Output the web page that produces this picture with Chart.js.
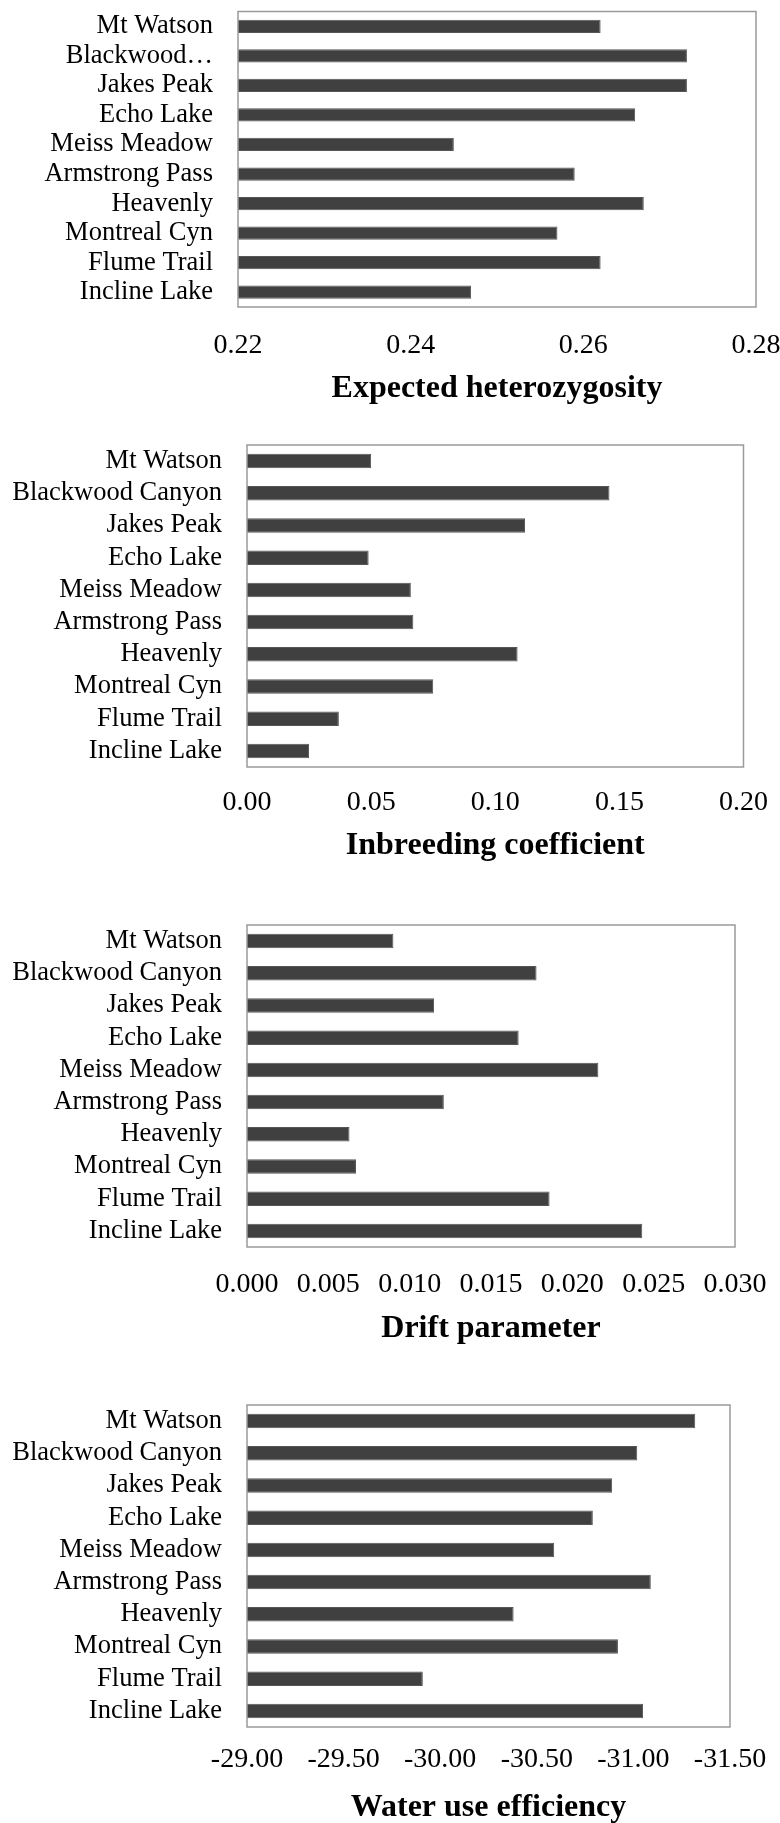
<!DOCTYPE html>
<html>
<head>
<meta charset="utf-8">
<script src="https://cdn.jsdelivr.net/npm/chart.js@4/dist/chart.umd.min.js"></script>
<style>
  html, body { margin: 0; padding: 0; background: #ffffff; width: 780px; height: 1823px; overflow: hidden; }
  canvas { position: absolute; left: 0; }
</style>
</head>
<body>
<canvas id="hetero"></canvas>
<canvas id="inbreeding"></canvas>
<canvas id="drift"></canvas>
<canvas id="wue"></canvas>
<script>
// Sampling sites, top to bottom
const sites = ['Mt Watson', 'Blackwood Canyon', 'Jakes Peak', 'Echo Lake', 'Meiss Meadow',
               'Armstrong Pass', 'Heavenly', 'Montreal Cyn', 'Flume Trail', 'Incline Lake'];
// The heterozygosity panel shows a shortened name for Blackwood Canyon
const sitesShort = ['Mt Watson', 'Blackwood\u2026', 'Jakes Peak', 'Echo Lake', 'Meiss Meadow',
                    'Armstrong Pass', 'Heavenly', 'Montreal Cyn', 'Flume Trail', 'Incline Lake'];

// Per-site values
const expectedHeterozygosity = [0.262, 0.272, 0.272, 0.266, 0.245, 0.259, 0.267, 0.257, 0.262, 0.247];
const inbreedingCoefficient  = [0.050, 0.146, 0.112, 0.049, 0.066, 0.067, 0.109, 0.075, 0.037, 0.025];
const driftParameter         = [0.0090, 0.0178, 0.0115, 0.0167, 0.0216, 0.0121, 0.0063, 0.0067, 0.0186, 0.0243];
const waterUseEfficiency     = [-31.32, -31.02, -30.89, -30.79, -30.59, -31.09, -30.38, -30.92, -29.91, -31.05];

// Axis tick values
const heteroTicks     = [0.22, 0.24, 0.26, 0.28];
const inbreedingTicks = [0.00, 0.05, 0.10, 0.15, 0.20];
const driftTicks      = [0.000, 0.005, 0.010, 0.015, 0.020, 0.025, 0.030];
const wueTicks        = [-29.00, -29.50, -30.00, -30.50, -31.00, -31.50];

const SERIF = "'Liberation Serif', 'Times New Roman', Times, serif";
const PAGE_W = 780;

// Grey frame around each plot area
const frame = {
  id: 'frame',
  afterDatasetsDraw(chart) {
    const { ctx, chartArea: a } = chart;
    ctx.save();
    ctx.strokeStyle = '#9a9a9a';
    ctx.lineWidth = 1.5;
    ctx.strokeRect(a.left, a.top, a.right - a.left, a.bottom - a.top);
    ctx.restore();
  }
};

function panel(id, p) {
  const canvas = document.getElementById(id);
  canvas.width = PAGE_W;
  canvas.height = p.h;
  canvas.style.top = p.top + 'px';

  const boxTop = p.box.t - p.top;
  const boxBottom = p.box.b - p.top;
  const tickSize = 28, titleSize = 32;
  const tickPad = (p.tickY - p.box.b) - tickSize * 0.6;
  const titlePad = (p.top + p.h) - p.titleY - titleSize * 0.6;

  new Chart(canvas, {
    type: 'bar',
    data: {
      labels: p.labels,
      datasets: [{
        data: p.values,
        base: p.reverse ? p.max : p.min,
        backgroundColor: '#404040',
        borderColor: '#555555',
        borderWidth: 1,
        barPercentage: 1,
        categoryPercentage: 0.45
      }]
    },
    options: {
      indexAxis: 'y',
      responsive: false,
      animation: false,
      events: [],
      layout: { padding: { top: boxTop, right: PAGE_W - p.box.r, left: 0, bottom: 0 } },
      plugins: { legend: { display: false }, tooltip: { enabled: false } },
      scales: {
        x: {
          type: 'linear',
          min: p.min,
          max: p.max,
          reverse: !!p.reverse,
          grid: { display: false, drawTicks: false },
          border: { display: false },
          afterBuildTicks: s => { s.ticks = p.ticks.map(v => ({ value: v })); },
          afterFit: s => { s.height = p.h - boxBottom; s.paddingLeft = 0; s.paddingRight = 0; },
          ticks: {
            autoSkip: false, maxRotation: 0, padding: tickPad, color: '#000000',
            font: { family: SERIF, size: tickSize },
            callback: v => Number(v).toFixed(p.decimals)
          },
          title: {
            display: true, text: p.title, color: '#000000',
            font: { family: SERIF, size: titleSize, weight: 'bold' },
            padding: { top: 0, bottom: titlePad }
          }
        },
        y: {
          grid: { display: false, drawTicks: false },
          border: { display: false },
          afterFit: s => { s.width = p.box.l; s.paddingTop = 0; s.paddingBottom = 0; },
          ticks: {
            autoSkip: false, padding: 25, color: '#000000',
            font: { family: SERIF, size: 26.5 }
          }
        }
      }
    },
    plugins: [frame]
  });
}

panel('hetero', {
  top: 0, h: 430, box: { l: 238, t: 11.5, r: 756, b: 307 }, tickY: 346, titleY: 388.5,
  labels: sitesShort, values: expectedHeterozygosity, ticks: heteroTicks,
  min: 0.22, max: 0.28, decimals: 2, title: 'Expected heterozygosity'
});
panel('inbreeding', {
  top: 430, h: 470, box: { l: 247, t: 445, r: 743.5, b: 767 }, tickY: 803, titleY: 845.5,
  labels: sites, values: inbreedingCoefficient, ticks: inbreedingTicks,
  min: 0, max: 0.2, decimals: 2, title: 'Inbreeding coefficient'
});
panel('drift', {
  top: 900, h: 470, box: { l: 247, t: 925, r: 735, b: 1247 }, tickY: 1285, titleY: 1328.5,
  labels: sites, values: driftParameter, ticks: driftTicks,
  min: 0, max: 0.03, decimals: 3, title: 'Drift parameter'
});
panel('wue', {
  top: 1370, h: 453, box: { l: 247, t: 1405, r: 730, b: 1727 }, tickY: 1760, titleY: 1807.5,
  labels: sites, values: waterUseEfficiency, ticks: wueTicks,
  min: -31.5, max: -29, reverse: true, decimals: 2, title: 'Water use efficiency'
});
</script>
</body>
</html>
